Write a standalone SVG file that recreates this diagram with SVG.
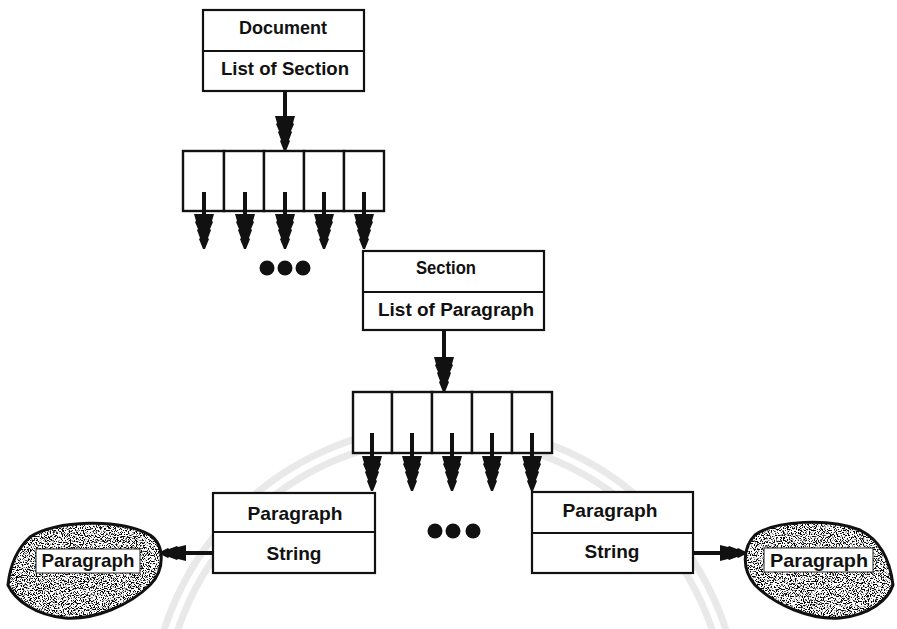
<svg xmlns="http://www.w3.org/2000/svg" xmlns:xlink="http://www.w3.org/1999/xlink" width="897" height="629" viewBox="0 0 897 629">
<style>
.box{fill:#fff;stroke:#111;stroke-width:2.2}
.cell{fill:#fff;stroke:#111;stroke-width:2.4}
.t{font-family:"Liberation Sans",Arial,sans-serif;font-weight:bold;fill:#111;text-anchor:middle}
.ln{stroke:#111;stroke-width:4;fill:none}
.hd{fill:#111}
.dot{fill:#111}
.wm{fill:none;stroke:#e9e9e9;stroke-width:7}
.blobedge{fill:none;stroke:#111;stroke-width:3}
.lbl{fill:#fff;stroke:#222;stroke-width:1}
</style>
<defs>
<polygon id="ah" points="-10,0 10,0 8,7 9,8 6,15 7,16 4,24 5,25 1,35 -1,35 -5,25 -4,24 -7,16 -6,15 -9,8 -8,7"/>
<polygon id="ahs" points="-8,0 8,0 6,8 7,9 4,17 5,18 1,26 -1,26 -5,18 -4,17 -7,9 -6,8"/>
<filter id="grain" x="0" y="0" width="100%" height="100%">
<feTurbulence type="fractalNoise" baseFrequency="0.85" numOctaves="2" seed="7" result="n"/>
<feColorMatrix in="n" type="matrix" values="0 0 0 0 0  0 0 0 0 0  0 0 0 0 0  -10 0 0 0 5.0" result="d"/>
<feComposite in="d" in2="SourceGraphic" operator="in"/>
</filter>
</defs>
<rect width="897" height="629" fill="#fff"/>
<g id="watermark">
<circle class="wm" cx="445" cy="720" r="295"/>
<circle class="wm" cx="445" cy="720" r="282"/>
</g>
<g id="document">
<rect class="box" x="203" y="10" width="161" height="81"/>
<line class="box" x1="203" y1="51" x2="364" y2="51"/>
<text class="t" x="283" y="34" font-size="18" textLength="88" lengthAdjust="spacingAndGlyphs">Document</text>
<text class="t" x="285" y="75" font-size="18" textLength="128" lengthAdjust="spacingAndGlyphs">List of Section</text>
</g>
<g id="section-list">
<rect class="cell" x="183" y="151" width="41" height="60"/>
<rect class="cell" x="224" y="151" width="40" height="60"/>
<rect class="cell" x="264" y="151" width="40" height="60"/>
<rect class="cell" x="304" y="151" width="40" height="60"/>
<rect class="cell" x="344" y="151" width="40" height="60"/>
</g>
<g id="section-ellipsis">
<circle class="dot" cx="267" cy="268" r="7.5"/>
<circle class="dot" cx="285" cy="268" r="7.5"/>
<circle class="dot" cx="303" cy="268" r="7.5"/>
</g>
<g id="section">
<rect class="box" x="363" y="251" width="181" height="79"/>
<line class="box" x1="363" y1="292" x2="544" y2="292"/>
<text class="t" x="446" y="274" font-size="18" textLength="60" lengthAdjust="spacingAndGlyphs">Section</text>
<text class="t" x="456" y="316" font-size="18" textLength="156" lengthAdjust="spacingAndGlyphs">List of Paragraph</text>
</g>
<g id="paragraph-list">
<rect class="cell" x="353" y="392" width="39" height="61"/>
<rect class="cell" x="392" y="392" width="40" height="61"/>
<rect class="cell" x="432" y="392" width="40" height="61"/>
<rect class="cell" x="472" y="392" width="40" height="61"/>
<rect class="cell" x="512" y="392" width="40" height="61"/>
</g>
<g id="paragraph-ellipsis">
<circle class="dot" cx="435" cy="531" r="7.5"/>
<circle class="dot" cx="453" cy="531" r="7.5"/>
<circle class="dot" cx="473" cy="531" r="7.5"/>
</g>
<g id="paragraph-left">
<rect class="box" x="213" y="493" width="162" height="80"/>
<line class="box" x1="213" y1="532" x2="375" y2="532"/>
<text class="t" x="295" y="520" font-size="19" textLength="95" lengthAdjust="spacingAndGlyphs">Paragraph</text>
<text class="t" x="294" y="560" font-size="19" textLength="55" lengthAdjust="spacingAndGlyphs">String</text>
</g>
<g id="paragraph-right">
<rect class="box" x="532" y="492" width="161" height="81"/>
<line class="box" x1="532" y1="533" x2="693" y2="533"/>
<text class="t" x="610" y="517" font-size="19" textLength="95" lengthAdjust="spacingAndGlyphs">Paragraph</text>
<text class="t" x="612" y="558" font-size="19" textLength="55" lengthAdjust="spacingAndGlyphs">String</text>
</g>
<g id="blob-left">
<path d="M8,585 C10,565 18,548 30,537 C55,520 120,518 150,535 C165,545 165,570 150,585 C130,605 95,620 65,618 C35,615 15,600 8,585 Z" fill="#fff"/>
<path d="M8,585 C10,565 18,548 30,537 C55,520 120,518 150,535 C165,545 165,570 150,585 C130,605 95,620 65,618 C35,615 15,600 8,585 Z" fill="#fff" filter="url(#grain)"/>
<path class="blobedge" d="M8,585 C10,565 18,548 30,537 C55,520 120,518 150,535 C165,545 165,570 150,585 C130,605 95,620 65,618 C35,615 15,600 8,585 Z"/>
<rect class="lbl" x="36" y="549" width="104" height="24"/>
<text class="t" x="88" y="567" font-size="19" textLength="93" lengthAdjust="spacingAndGlyphs">Paragraph</text>
</g>
<g id="blob-right">
<path d="M893,585 C890,560 880,540 860,530 C830,518 775,520 755,535 C742,548 742,570 755,585 C775,605 810,620 840,618 C870,615 888,600 893,585 Z" fill="#fff"/>
<path d="M893,585 C890,560 880,540 860,530 C830,518 775,520 755,535 C742,548 742,570 755,585 C775,605 810,620 840,618 C870,615 888,600 893,585 Z" fill="#fff" filter="url(#grain)"/>
<path class="blobedge" d="M893,585 C890,560 880,540 860,530 C830,518 775,520 755,535 C742,548 742,570 755,585 C775,605 810,620 840,618 C870,615 888,600 893,585 Z"/>
<rect class="lbl" x="764" y="548" width="109" height="24"/>
<text class="t" x="819" y="567" font-size="19" textLength="98" lengthAdjust="spacingAndGlyphs">Paragraph</text>
</g>
<g id="connectors">
<line class="ln" x1="285" y1="91" x2="285" y2="118"/>
<use href="#ah" class="hd" x="285" y="116"/>
<line class="ln" x1="204" y1="192" x2="204" y2="215"/>
<line class="ln" x1="245" y1="192" x2="245" y2="215"/>
<line class="ln" x1="285" y1="192" x2="285" y2="215"/>
<line class="ln" x1="324" y1="192" x2="324" y2="215"/>
<line class="ln" x1="364" y1="192" x2="364" y2="215"/>
<use href="#ah" class="hd" x="204" y="214"/>
<use href="#ah" class="hd" x="245" y="214"/>
<use href="#ah" class="hd" x="285" y="214"/>
<use href="#ah" class="hd" x="324" y="214"/>
<use href="#ah" class="hd" x="364" y="214"/>
<line class="ln" x1="444" y1="330" x2="444" y2="358"/>
<use href="#ah" class="hd" x="444" y="357"/>
<line class="ln" x1="372" y1="433" x2="372" y2="457"/>
<line class="ln" x1="412" y1="433" x2="412" y2="457"/>
<line class="ln" x1="452" y1="433" x2="452" y2="457"/>
<line class="ln" x1="492" y1="433" x2="492" y2="457"/>
<line class="ln" x1="532" y1="433" x2="532" y2="457"/>
<use href="#ah" class="hd" x="372" y="456"/>
<use href="#ah" class="hd" x="412" y="456"/>
<use href="#ah" class="hd" x="452" y="456"/>
<use href="#ah" class="hd" x="492" y="456"/>
<use href="#ah" class="hd" x="532" y="456"/>
<line class="ln" x1="213" y1="553" x2="184" y2="553"/>
<use href="#ahs" class="hd" transform="translate(186,553) rotate(90)"/>
<line class="ln" x1="693" y1="553" x2="722" y2="553"/>
<use href="#ahs" class="hd" transform="translate(720,553) rotate(-90)"/>
</g>
</svg>
